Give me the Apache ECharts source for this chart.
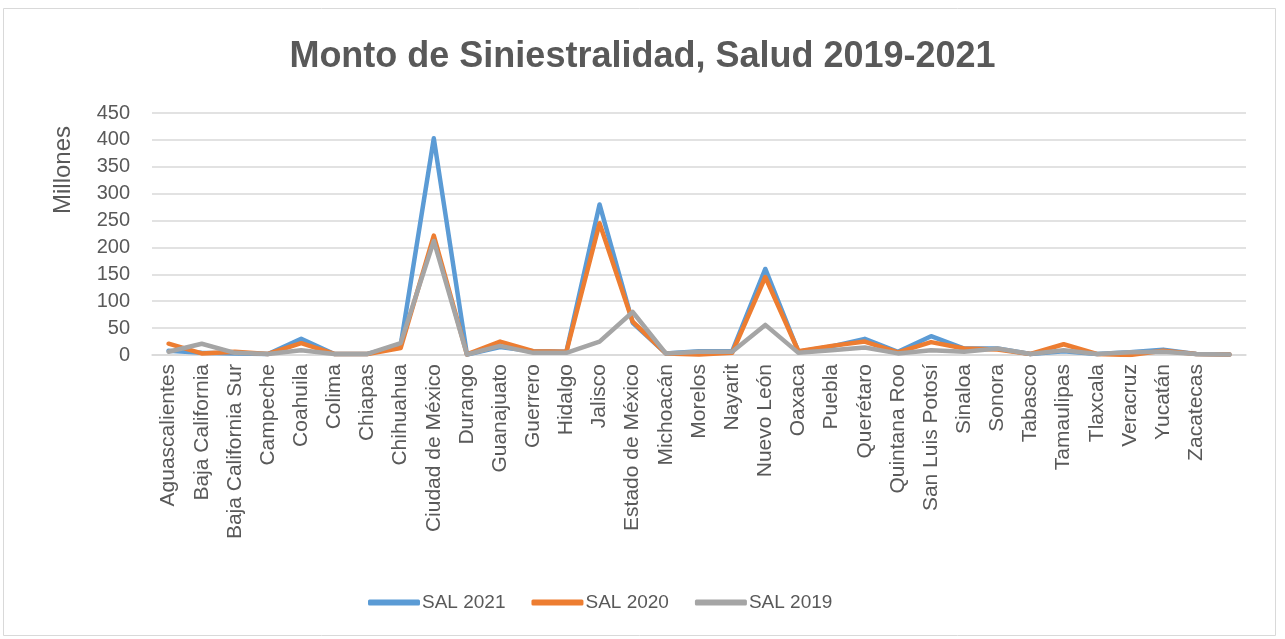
<!DOCTYPE html>
<html>
<head>
<meta charset="utf-8">
<script src="https://cdn.jsdelivr.net/npm/echarts@6/dist/echarts.min.js"></script>
<style>
html,body{margin:0;padding:0;background:#fff;}
#c{width:1285px;height:639px;}
</style>
</head>
<body>
<div id="c"></div>
<script>
const categories = ["Aguascalientes","Baja California","Baja California Sur","Campeche","Coahuila","Colima","Chiapas","Chihuahua","Ciudad de México","Durango","Guanajuato","Guerrero","Hidalgo","Jalisco","Estado de México","Michoacán","Morelos","Nayarit","Nuevo León","Oaxaca","Puebla","Querétaro","Quintana Roo","San Luis Potosí","Sinaloa","Sonora","Tabasco","Tamaulipas","Tlaxcala","Veracruz","Yucatán","Zacatecas",""];
const sal2021 = [8,4,3,2,30,2,2,18,403,1,15,7,6,280,60,3,7,7,160,6,16,30,6,35,12,12,2,7,2,5,10,2,1];
const sal2020 = [21,3,6,2,22,2,2,13,222,1,25,7,6,245,62,3,1,4,145,7,17,25,5,24,12,10,2,20,2,0,8,2,1];
const sal2019 = [6,21,4,2,9,2,2,22,212,1,17,4,4,25,80,3,6,6,56,4,9,14,3,9,6,12,2,9,2,5,6,2,1];
const yTicks = {min:0, max:450, interval:50};
const seriesNames = ["SAL 2021","SAL 2020","SAL 2019"];
const colors = ["#5B9BD5","#ED7D31","#A5A5A5"];
const titleText = 'Monto de Siniestralidad, Salud 2019-2021';
const yName = 'Millones';

const chart = echarts.init(document.getElementById('c'), null, {renderer:'canvas'});
const font = "'Liberation Sans', Arial, sans-serif";
const mk = (name, data, color) => ({
  name, type:'line', data, symbol:'none', smooth:false,
  lineStyle:{color, width:4.5, join:'round', cap:'round'},
  itemStyle:{color}, z:2
});
chart.setOption({
  animation:false,
  backgroundColor:'#fff',
  textStyle:{fontFamily:font},
  title:{
    text:titleText,
    left:'center', top:34,
    textStyle:{fontFamily:font, fontSize:36, fontWeight:'bold', color:'#595959'}
  },
  graphic:[
    {type:'rect', shape:{x:3.5,y:8.5,width:1272,height:627}, style:{fill:'none', stroke:'#D9D9D9', lineWidth:1}, silent:true, z:-1},
    {type:'text', x:63, y:170, rotation:Math.PI/2, style:{text:yName, fontFamily:font, fontSize:24, fill:'#595959', align:'center', verticalAlign:'middle'}, silent:true}
  ],
  legend:{
    data:seriesNames, top:588, left:363, itemWidth:52, itemHeight:6, itemGap:26,
    icon:'roundRect',
    textStyle:{fontFamily:font, fontSize:19, color:'#595959', padding:[0,0,0,-3]}
  },
  grid:{left:152, right:39, top:113, bottom:284, containLabel:false},
  xAxis:{
    type:'category', data:categories, boundaryGap:true,
    axisLine:{show:true, lineStyle:{color:'#D9D9D9', width:1.5}},
    axisTick:{show:false},
    axisLabel:{rotate:90, interval:0, fontFamily:font, fontSize:21, color:'#595959', margin:9}
  },
  yAxis:{
    type:'value', min:yTicks.min, max:yTicks.max, interval:yTicks.interval,
    axisLine:{show:false}, axisTick:{show:false},
    axisLabel:{fontFamily:font, fontSize:20, color:'#595959', margin:22},
    splitLine:{lineStyle:{color:'#D9D9D9', width:1.5}}
  },
  series:[mk(seriesNames[0], sal2021, colors[0]), mk(seriesNames[1], sal2020, colors[1]), mk(seriesNames[2], sal2019, colors[2])]
});
</script>
</body>
</html>
